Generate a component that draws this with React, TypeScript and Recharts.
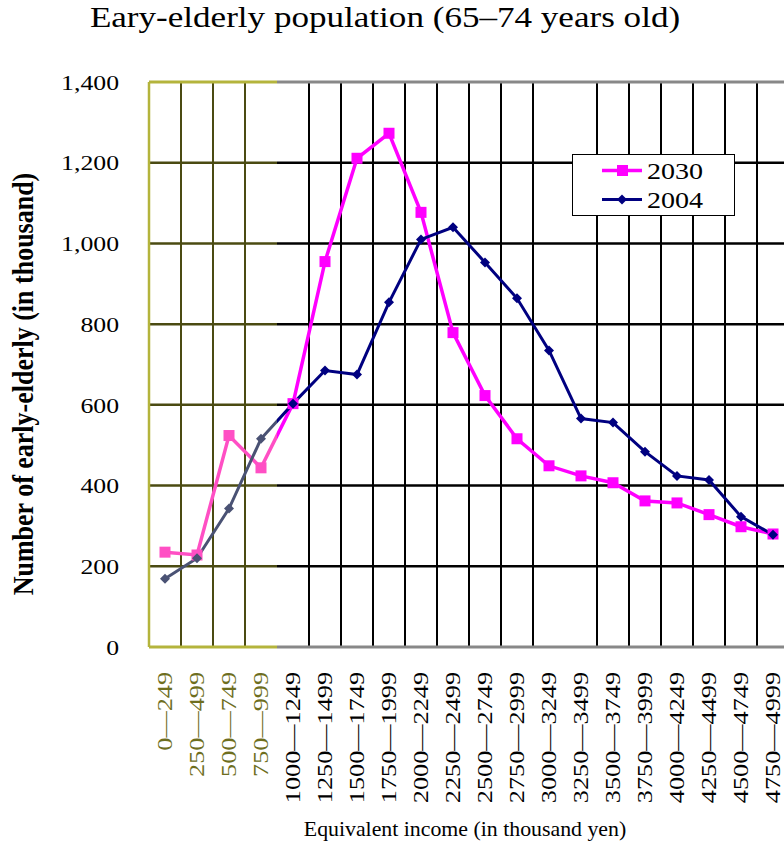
import React from "react";
import { LineChart, Line, XAxis, YAxis, ReferenceLine, Legend } from "recharts";

// ─── Data ─────────────────────────────────────────────────────────────────────

const CATEGORIES = [
  "0—249", "250—499", "500—749", "750—999", "1000—1249",
  "1250—1499", "1500—1749", "1750—1999", "2000—2249", "2250—2499",
  "2500—2749", "2750—2999", "3000—3249", "3250—3499", "3500—3749",
  "3750—3999", "4000—4249", "4250—4499", "4500—4749", "4750—4999",
];

const SERIES_2030 = [
  235, 228, 524, 444, 603, 955, 1211, 1273, 1077, 779,
  623, 516, 449, 424, 407, 362, 357, 328, 298, 280,
];

const SERIES_2004 = [
  169, 220, 343, 516, 603, 685, 675, 854, 1010, 1040,
  953, 864, 735, 566, 556, 484, 424, 414, 323, 278,
];

const Y_TICKS = [0, 200, 400, 600, 800, 1000, 1200, 1400];
const INNER_GRID_Y = [200, 400, 600, 800, 1000, 1200];

// first four income bands sit on the olive-tinted part of the plot
const HIGHLIGHT_END = 4;
const OLIVE_GRID_X = [1, 2, 3];
const BLACK_GRID_X = [5, 6, 7, 8, 9, 10, 11, 12, 14, 15, 16, 17, 18, 19];

// ─── Styles ───────────────────────────────────────────────────────────────────

const FONT = '"Liberation Serif", "Times New Roman", serif';
const STRETCH = 1.17;

const COLORS = {
  c2030: "#ff00ff",
  c2030Dim: "#ff4fc4",
  c2004: "#000080",
  c2004Dim: "#4a5274",
  oliveGrid: "#4b4b12",
  oliveBorder: "#b4b43c",
  oliveText: "#6e6e1e",
  grayBorder: "#888888",
};

const data = CATEGORIES.map((label, i) => ({
  pos: i + 0.5,
  label,
  y2030: SERIES_2030[i],
  y2004: SERIES_2004[i],
}));

const TICK_POS = data.map((d) => d.pos);
const SPLIT = (HIGHLIGHT_END - TICK_POS[0]) / (TICK_POS[TICK_POS.length - 1] - TICK_POS[0]);

// ─── Ticks, dots, legend ──────────────────────────────────────────────────────

function XTick(props: any) {
  const { x, y, index } = props;
  const label = CATEGORIES[index] ?? "";
  return (
    <text
      transform={`translate(${x},${y}) rotate(-90) scale(1.25,1)`}
      textAnchor="end"
      dy="0.35em"
      fontFamily={FONT}
      fontSize={21}
      fill={index < HIGHLIGHT_END ? COLORS.oliveText : "#000"}
    >
      {label}
    </text>
  );
}

function YTick(props: any) {
  const { x, y, payload } = props;
  return (
    <text
      transform={`translate(${x},${y}) scale(${STRETCH},1)`}
      textAnchor="end"
      dy="0.35em"
      fontFamily={FONT}
      fontSize={22}
      fill="#000"
    >
      {payload.value.toLocaleString("en-US")}
    </text>
  );
}

function squareDot(props: any) {
  const { cx, cy, index } = props;
  return (
    <rect
      key={`sq-${index}`}
      x={cx - 5.5}
      y={cy - 5.5}
      width={11}
      height={11}
      fill={index < HIGHLIGHT_END ? COLORS.c2030Dim : COLORS.c2030}
    />
  );
}

function diamondDot(props: any) {
  const { cx, cy, index } = props;
  const r = 5;
  return (
    <polygon
      key={`dm-${index}`}
      points={`${cx},${cy - r} ${cx + r},${cy} ${cx},${cy + r} ${cx - r},${cy}`}
      fill={index < HIGHLIGHT_END ? COLORS.c2004Dim : COLORS.c2004}
    />
  );
}

function LegendBox() {
  return (
    <div
      style={{
        width: 163,
        height: 62,
        boxSizing: "border-box",
        border: "1.5px solid #000",
        background: "#fff",
      }}
    >
      <svg width={160} height={59} style={{ display: "block" }}>
        <line x1={29} x2={69} y1={15.5} y2={15.5} stroke={COLORS.c2030} strokeWidth={3.5} />
        <rect x={44} y={10} width={11} height={11} fill={COLORS.c2030} />
        <text
          transform={`translate(74,23.5) scale(${STRETCH},1)`}
          fontFamily={FONT}
          fontSize={24}
        >
          2030
        </text>
        <line x1={29} x2={69} y1={44.5} y2={44.5} stroke={COLORS.c2004} strokeWidth={3} />
        <polygon points="49,39.5 54,44.5 49,49.5 44,44.5" fill={COLORS.c2004} />
        <text
          transform={`translate(74,52.5) scale(${STRETCH},1)`}
          fontFamily={FONT}
          fontSize={24}
        >
          2004
        </text>
      </svg>
    </div>
  );
}

// ─── Chart ────────────────────────────────────────────────────────────────────

export default function App() {
  return (
    <div
      style={{
        position: "absolute",
        left: 0,
        top: 0,
        width: 784,
        height: 849,
        overflow: "hidden",
        background: "#fff",
      }}
    >
      <LineChart
        width={800}
        height={849}
        data={data}
        margin={{ top: 82, right: 11, bottom: 32, left: 49 }}
      >
        <defs>
          <linearGradient id="stroke2030" x1="0" y1="0" x2="1" y2="0">
            <stop offset={0} stopColor={COLORS.c2030Dim} />
            <stop offset={SPLIT} stopColor={COLORS.c2030Dim} />
            <stop offset={SPLIT} stopColor={COLORS.c2030} />
            <stop offset={1} stopColor={COLORS.c2030} />
          </linearGradient>
          <linearGradient id="stroke2004" x1="0" y1="0" x2="1" y2="0">
            <stop offset={0} stopColor={COLORS.c2004Dim} />
            <stop offset={SPLIT} stopColor={COLORS.c2004Dim} />
            <stop offset={SPLIT} stopColor={COLORS.c2004} />
            <stop offset={1} stopColor={COLORS.c2004} />
          </linearGradient>
        </defs>

        <XAxis
          dataKey="pos"
          type="number"
          domain={[0, CATEGORIES.length]}
          ticks={TICK_POS}
          interval={0}
          axisLine={false}
          tickLine={false}
          tickSize={0}
          tickMargin={25}
          height={170}
          tick={(p: any) => <XTick {...p} />}
        />
        <YAxis
          domain={[0, 1400]}
          ticks={Y_TICKS}
          interval={0}
          axisLine={{ stroke: COLORS.oliveBorder, strokeWidth: 2.5 }}
          tickLine={false}
          tickSize={0}
          tickMargin={30}
          width={100}
          tick={(p: any) => <YTick {...p} />}
        />

        {/* horizontal grid: olive over the highlighted bands, black elsewhere */}
        {INNER_GRID_Y.map((v) => (
          <ReferenceLine
            key={`ho-${v}`}
            segment={[{ x: 0, y: v }, { x: HIGHLIGHT_END, y: v }]}
            stroke={COLORS.oliveGrid}
            strokeWidth={2.5}
          />
        ))}
        {INNER_GRID_Y.map((v) => (
          <ReferenceLine
            key={`hb-${v}`}
            segment={[{ x: HIGHLIGHT_END, y: v }, { x: CATEGORIES.length, y: v }]}
            stroke="#000"
            strokeWidth={2.5}
          />
        ))}

        {/* vertical grid */}
        {OLIVE_GRID_X.map((v) => (
          <ReferenceLine key={`vo-${v}`} x={v} stroke={COLORS.oliveGrid} strokeWidth={2} />
        ))}
        {BLACK_GRID_X.map((v) => (
          <ReferenceLine key={`vb-${v}`} x={v} stroke="#000" strokeWidth={2} />
        ))}

        {/* top and bottom borders */}
        {[0, 1400].map((v) => (
          <ReferenceLine
            key={`bo-${v}`}
            segment={[{ x: 0, y: v }, { x: HIGHLIGHT_END, y: v }]}
            stroke={COLORS.oliveBorder}
            strokeWidth={3}
          />
        ))}
        {[0, 1400].map((v) => (
          <ReferenceLine
            key={`bg-${v}`}
            segment={[{ x: HIGHLIGHT_END, y: v }, { x: CATEGORIES.length, y: v }]}
            stroke={COLORS.grayBorder}
            strokeWidth={3}
          />
        ))}

        <Line
          dataKey="y2030"
          name="2030"
          stroke="url(#stroke2030)"
          strokeWidth={3.5}
          dot={squareDot}
          activeDot={false}
          isAnimationActive={false}
        />
        <Line
          dataKey="y2004"
          name="2004"
          stroke="url(#stroke2004)"
          strokeWidth={3}
          dot={diamondDot}
          activeDot={false}
          isAnimationActive={false}
        />

        <Legend
          layout="horizontal"
          verticalAlign="middle"
          align="center"
          wrapperStyle={{ left: 572, top: 154, width: 163, height: 62 }}
          content={() => <LegendBox />}
        />
      </LineChart>

      <svg
        width={784}
        height={849}
        style={{ position: "absolute", left: 0, top: 0, pointerEvents: "none" }}
      >
        <text
          transform={`translate(385,27) scale(${STRETCH},1)`}
          textAnchor="middle"
          fontFamily={FONT}
          fontSize={30}
        >
          Eary-elderly population (65–74 years old)
        </text>
        <text
          transform={`translate(33,384) rotate(-90) scale(1,${STRETCH})`}
          textAnchor="middle"
          fontFamily={FONT}
          fontSize={26}
          fontWeight="bold"
        >
          Number of early-elderly (in thousand)
        </text>
        <text
          transform="translate(465,836) scale(1.04,1)"
          textAnchor="middle"
          fontFamily={FONT}
          fontSize={21}
        >
          Equivalent income (in thousand yen)
        </text>
      </svg>
    </div>
  );
}
